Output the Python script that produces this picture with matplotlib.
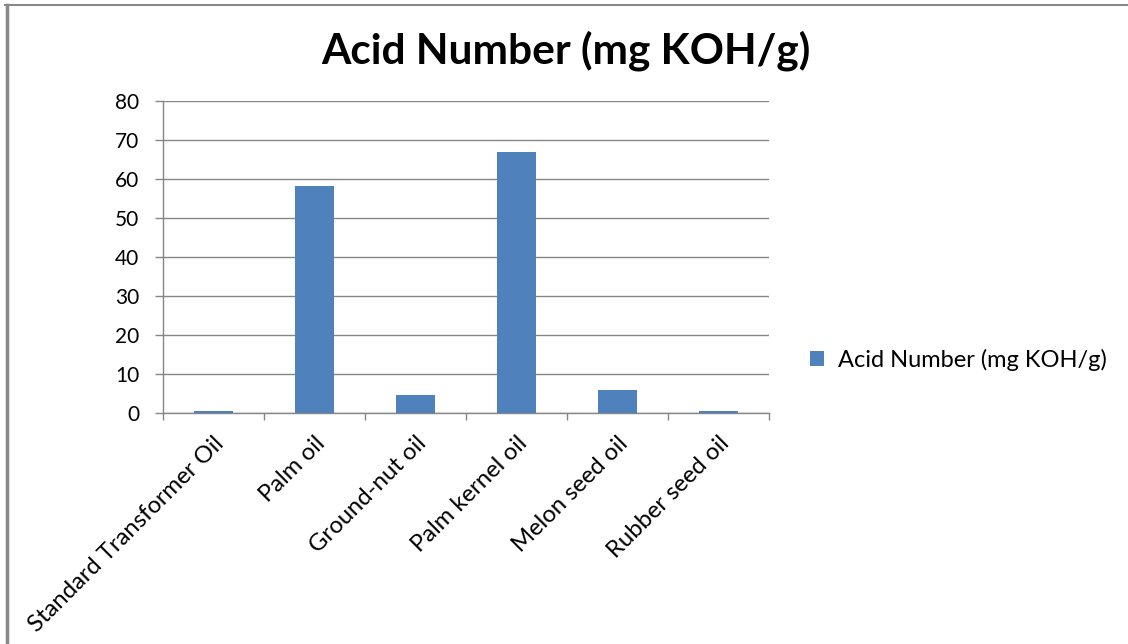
import matplotlib

matplotlib.use("Agg")
import matplotlib.pyplot as plt
from matplotlib.lines import Line2D
import numpy as np

OILS = [
    "Standard Transformer Oil",
    "Palm oil",
    "Ground-nut oil",
    "Palm kernel oil",
    "Melon seed oil",
    "Rubber seed oil",
]
ACID_NUMBER = [0.5, 58.2, 4.6, 66.9, 5.9, 0.5]
Y_TICKS = [0, 10, 20, 30, 40, 50, 60, 70, 80]
SERIES_NAME = "Acid Number (mg KOH/g)"

BAR_COLOR = "#4f81bd"
GRID_COLOR = "#868686"

plt.rcParams["font.family"] = ["Lato", "DejaVu Sans"]

fig = plt.figure(figsize=(11.28, 6.44), dpi=100)
ax = fig.add_axes([0.1445, 0.3587, 0.5372, 0.4845])

x = np.arange(len(OILS))
ax.bar(x, ACID_NUMBER, width=0.39, color=BAR_COLOR, zorder=3,
       label=SERIES_NAME)

ax.set_xlim(-0.5, len(OILS) - 0.5)
ax.set_ylim(0, 80)
ax.set_yticks(Y_TICKS)
ax.set_yticklabels([str(v) for v in Y_TICKS], fontsize=15)
ax.yaxis.grid(True, color=GRID_COLOR, linewidth=1.0, zorder=0)
ax.set_axisbelow(True)

# category boundaries carry the x tick marks, labels sit at bar centres
ax.set_xticks(np.arange(len(OILS) + 1) - 0.5)
ax.set_xticklabels([])
ax.set_xticks(x, minor=True)
ax.set_xticklabels(OILS, minor=True, rotation=45, ha="right",
                   rotation_mode="anchor", fontsize=17.2)
ax.tick_params(axis="x", which="minor", length=0, pad=14)
ax.tick_params(axis="x", which="major", length=5, width=1.0,
               color=GRID_COLOR)
ax.tick_params(axis="y", length=6, width=1.0, color=GRID_COLOR, pad=11)

for side in ("top", "right"):
    ax.spines[side].set_visible(False)
for side in ("left", "bottom"):
    ax.spines[side].set_color(GRID_COLOR)
    ax.spines[side].set_linewidth(1.0)

fig.text(0.502, 0.922, SERIES_NAME, ha="center", va="center",
         fontsize=30.5, fontweight="bold")

fig.legend(loc="center left", bbox_to_anchor=(0.699, 0.441), frameon=False,
           fontsize=17, handlelength=0.6, handleheight=0.6,
           handletextpad=0.6)

# outer chart border (top and left edges)
fig.add_artist(Line2D([0.004, 1.0], [0.992, 0.992], color="#888888",
                      linewidth=1.5, transform=fig.transFigure))
fig.add_artist(Line2D([0.006, 0.006], [0.0, 0.992], color="#888888",
                      linewidth=2.5, transform=fig.transFigure))

fig.savefig("out.png", dpi=100)
